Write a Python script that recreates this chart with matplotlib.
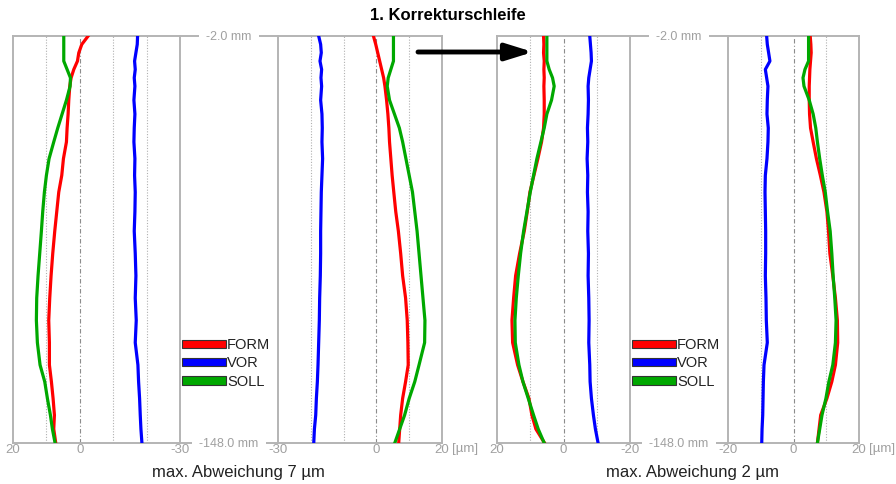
import matplotlib
matplotlib.use("Agg")
import matplotlib.pyplot as plt
from matplotlib.lines import Line2D
from matplotlib.patches import Patch, FancyArrowPatch

plt.rcParams["font.family"] = ["Liberation Sans", "DejaVu Sans"]

W, H = 896, 484

# measuring depth in mm (top -2.0 mm, bottom -148.0 mm)
depth = [-2, -5, -8, -11, -14, -17, -20, -25, -30, -35, -40, -46, -52, -58,
         -65, -72, -80, -88, -96, -104, -112, -120, -126, -132, -138, -143, -148]

# deviation in µm, before correction (left pair)
form_b_left = [-2.5, -0.6, 0.3, 0.7, 1.8, 2.6, 3.0, 3.3, 3.5, 3.8, 4.0, 4.9, 5.4, 6.3,
               6.9, 7.5, 8.1, 8.6, 9.0, 9.3, 9.1, 9.1, 8.5, 8.0, 7.6, 7.8, 7.2]
vor_b_left = [-17.3, -17.2, -16.8, -16.4, -16.6, -16.3, -16.5, -16.2, -16.5, -16.3, -16.2, -16.5, -16.4, -16.6,
              -16.5, -16.3, -16.6, -16.8, -16.6, -16.9, -16.6, -17.4, -17.6, -17.9, -18.1, -18.3, -18.6]
soll_b_left = [4.8, 4.8, 4.8, 4.8, 3.8, 2.8, 2.9, 4.0, 5.3, 6.6, 7.8, 9.2, 10.0, 10.6,
               11.1, 11.5, 12.0, 12.5, 12.9, 13.0, 12.7, 11.9, 10.5, 9.7, 8.8, 8.2, 7.4]

form_b_right = [-0.9, -0.2, 0.4, 1.0, 1.6, 2.2, 2.6, 3.1, 3.5, 3.8, 4.0, 4.4, 4.8, 5.3,
                5.9, 6.7, 7.4, 8.0, 8.9, 9.4, 9.6, 9.7, 8.9, 8.0, 7.4, 7.1, 6.8]
vor_b_right = [-17.6, -17.0, -16.8, -17.2, -16.7, -16.9, -16.7, -17.0, -16.6, -16.5, -16.6, -16.4, -16.6, -16.8,
               -16.9, -17.0, -17.0, -17.1, -17.3, -17.4, -17.6, -17.8, -18.0, -18.3, -18.5, -18.9, -19.1]
soll_b_right = [5.2, 5.2, 5.2, 5.2, 4.4, 3.6, 3.3, 4.0, 5.5, 7.0, 8.0, 9.0, 10.0, 11.0,
                11.7, 12.4, 13.0, 13.6, 14.2, 14.8, 14.7, 13.0, 11.7, 10.0, 8.6, 7.1, 5.6]

# after 1st correction loop (right pair)
form_a_left = [6.0, 5.9, 6.0, 5.8, 5.9, 5.8, 5.9, 5.8, 5.8, 6.0, 6.6, 7.7, 8.9, 10.1,
               10.9, 11.8, 13.2, 14.4, 15.0, 15.5, 15.3, 13.8, 12.2, 10.4, 9.5, 8.3, 5.7]
vor_a_left = [-7.9, -8.1, -8.3, -8.4, -8.0, -7.6, -7.4, -7.5, -7.4, -7.2, -7.3, -7.1, -7.3, -7.2,
              -7.4, -7.3, -7.5, -7.4, -7.6, -7.7, -7.6, -7.9, -8.0, -8.4, -9.0, -9.6, -10.4]
soll_a_left = [5.0, 5.0, 5.0, 5.0, 4.3, 3.3, 2.8, 3.6, 5.0, 5.8, 6.8, 8.0, 9.0, 10.0,
               11.0, 12.0, 12.9, 13.6, 14.2, 14.6, 14.5, 13.4, 12.2, 10.6, 9.0, 7.6, 5.8]

form_a_right = [5.1, 5.3, 5.4, 5.2, 5.0, 4.9, 4.8, 4.8, 4.9, 5.2, 6.0, 7.0, 8.2, 9.3,
                10.2, 10.7, 11.1, 12.0, 12.8, 13.4, 13.5, 12.8, 11.7, 10.2, 8.3, 7.8, 7.3]
vor_a_right = [-8.2, -8.0, -7.6, -7.2, -8.6, -8.2, -7.8, -8.0, -8.1, -7.7, -7.8, -8.1, -8.6, -8.7,
               -8.6, -8.5, -8.5, -8.6, -8.4, -8.3, -8.0, -9.0, -9.2, -9.3, -9.4, -9.6, -9.7]
soll_a_right = [4.6, 4.6, 4.6, 4.6, 3.5, 2.9, 3.2, 4.8, 6.0, 6.8, 7.3, 8.0, 8.8, 9.7,
                10.4, 11.2, 11.7, 12.1, 12.6, 13.0, 12.8, 12.0, 10.8, 9.9, 8.7, 8.0, 7.3]

names = ["FORM", "VOR", "SOLL"]
colors = ["#ff0000", "#0000ff", "#00a800"]
summary = ["max. Abweichung 7 µm", "max. Abweichung 2 µm"]

GRAY = "#b4b4b4"
LABEL = "#a0a0a0"
TOP, BOT = 36, 443

fig = plt.figure(figsize=(W / 100, H / 100), dpi=100)


def panel(x0, x1, xlim, ticks, grid, series):
    ax = fig.add_axes([x0 / W, 1 - BOT / H, (x1 - x0) / W, (BOT - TOP) / H])
    for g in grid:
        if g == 0:
            ax.axvline(0, color="#8c8c8c", lw=0.8, ls=(0, (4, 2, 1, 2)), zorder=1)
        else:
            ax.axvline(g, color="#b0b0b0", lw=0.8, ls=(0, (1, 1.5)), zorder=1)
    for vals, col in zip(series, colors):
        ax.plot(vals, depth, color=col, lw=2.3, solid_joinstyle="round", zorder=3)
    ax.set_xlim(*xlim)
    ax.set_ylim(-148, -2)
    ax.set_xticks(ticks)
    ax.set_xticklabels([str(t) for t in ticks])
    ax.set_yticks([])
    ax.tick_params(axis="x", length=0, pad=0.5, labelsize=9.5, labelcolor=LABEL)
    for s in ax.spines.values():
        s.set_color(GRAY)
        s.set_linewidth(1.4)
    return ax


panel(13, 180, (20, -30), [20, 0, -30], [10, 0, -10, -20],
      [form_b_left, vor_b_left, soll_b_left])
panel(278, 442, (-30, 20), [-30, 0, 20], [-20, -10, 0, 10],
      [form_b_right, vor_b_right, soll_b_right])
panel(497, 630, (20, -20), [20, 0, -20], [10, 0, -10],
      [form_a_left, vor_a_left, soll_a_left])
panel(728, 859, (-20, 20), [-20, 0, 20], [-10, 0, 10],
      [form_a_right, vor_a_right, soll_a_right])

# depth labels between the panels of each pair
for xa, xb in [(180, 278), (630, 728)]:
    for y, lab in [(TOP, "-2.0 mm"), (BOT, "-148.0 mm")]:
        fig.add_artist(Line2D([xa / W, xb / W], [1 - y / H] * 2, color=GRAY, lw=1.4,
                              transform=fig.transFigure, zorder=1))
        fig.text((xa + xb) / 2 / W, 1 - (y + 1) / H, lab, ha="center", va="center",
                 fontsize=9, color=LABEL, zorder=3,
                 bbox=dict(fc="white", ec="none", pad=5))

for x in (452, 869):
    fig.text(x / W, 1 - 449 / H, "[µm]", ha="left", va="center", fontsize=9.5, color=LABEL)

# legends
handles = [Patch(fc=c, ec="#333333", lw=0.8, label=n) for c, n in zip(colors, names)]
for x in (182, 632):
    fig.legend(handles=handles, loc="upper left", bbox_to_anchor=(x / W, 1 - 338 / H),
               frameon=False, fontsize=10.5, handlelength=3.0, handleheight=0.5,
               handletextpad=0.1, labelspacing=0.3, borderpad=0, borderaxespad=0,
               labelcolor="#222222")

fig.text(238 / W, 1 - 472 / H, summary[0], ha="center", va="center", fontsize=12, color="#222222")
fig.text(692 / W, 1 - 472 / H, summary[1], ha="center", va="center", fontsize=12, color="#222222")

fig.text(448 / W, 1 - 16 / H, "1. Korrekturschleife", ha="center", va="center",
         fontsize=12, fontweight="bold")

arrow = FancyArrowPatch((418 / W, 1 - 52 / H), (533 / W, 1 - 52 / H), transform=fig.transFigure,
                        arrowstyle="-|>,head_length=0.9,head_width=0.28", mutation_scale=18,
                        lw=3.5, color="black", shrinkA=0, shrinkB=0)
fig.add_artist(arrow)

fig.savefig("out.png", dpi=100)
